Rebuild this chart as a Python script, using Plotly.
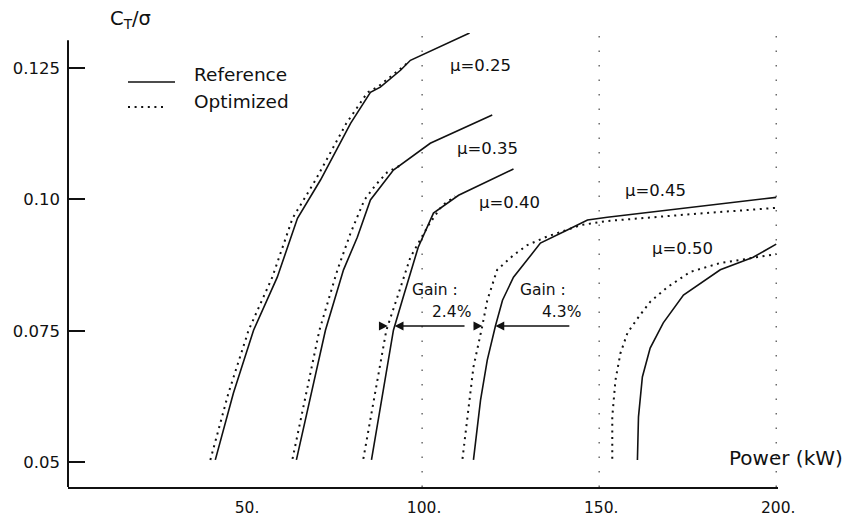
import numpy as np
import plotly.graph_objects as go

# Thrust coefficient vs. power, reference and optimized rotor, per advance ratio
mu_labels = ["\u00b5=0.25", "\u00b5=0.35", "\u00b5=0.40", "\u00b5=0.45", "\u00b5=0.50"]

ref_025_x = [41.6, 46.7, 52.4, 59.1, 64.8, 71.3, 79.8, 85.4, 88.2, 93.9, 96.7, 113.4]
ref_025_y = [0.0504, 0.0631, 0.0751, 0.0852, 0.0964, 0.1037, 0.1145, 0.1204, 0.1214, 0.1246, 0.1265, 0.1317]
opt_025_x = [40.2, 45.3, 51.0, 57.7, 63.4, 69.9, 78.6, 84.6, 87.4, 93.3, 96.1]
opt_025_y = [0.0504, 0.0631, 0.0751, 0.0852, 0.0964, 0.1037, 0.1145, 0.1204, 0.1214, 0.1246, 0.1261]

ref_035_x = [64.5, 68.5, 72.7, 77.8, 81.7, 85.4, 88.2, 91.9, 102.3, 119.8]
ref_035_y = [0.0504, 0.0624, 0.0751, 0.0866, 0.0928, 0.0999, 0.1024, 0.1056, 0.1107, 0.1161]
opt_035_x = [63.4, 67.1, 71.0, 76.1, 79.8, 83.7, 86.8, 90.2, 93.9]
opt_035_y = [0.0506, 0.0624, 0.0751, 0.0866, 0.0936, 0.0999, 0.1027, 0.1052, 0.1065]

ref_040_x = [85.7, 88.8, 91.9, 94.4, 98.9, 103.2, 110.3, 125.8]
ref_040_y = [0.0504, 0.0624, 0.0751, 0.0808, 0.0909, 0.0974, 0.1008, 0.1058]
opt_040_x = [83.4, 86.5, 89.9, 93.0, 96.7, 101.8, 105.7, 109.4]
opt_040_y = [0.0506, 0.0624, 0.0751, 0.0814, 0.0890, 0.0951, 0.0989, 0.1006]

ref_045_x = [114.5, 116.5, 118.4, 120.7, 122.7, 125.8, 129.7, 133.4, 141.0, 146.7, 152.3, 200.0]
ref_045_y = [0.0504, 0.0618, 0.0694, 0.0759, 0.0808, 0.0852, 0.0885, 0.0917, 0.0942, 0.0961, 0.0966, 0.1004]
opt_045_x = [111.4, 112.8, 114.5, 117.0, 118.4, 121.2, 125.8, 129.7, 134.8, 144.7, 152.3, 176.0, 200.0]
opt_045_y = [0.0506, 0.0586, 0.0681, 0.0759, 0.0808, 0.0866, 0.0894, 0.0913, 0.0928, 0.0951, 0.0959, 0.0972, 0.0984]

ref_050_x = [160.8, 161.1, 162.2, 164.4, 168.1, 173.8, 184.2, 193.5, 200.0]
ref_050_y = [0.0504, 0.0586, 0.0662, 0.0717, 0.0765, 0.0818, 0.0866, 0.0890, 0.0915]
opt_050_x = [153.7, 153.7, 154.6, 156.0, 158.0, 161.1, 164.4, 169.3, 175.7, 184.2, 192.7, 200.0]
opt_050_y = [0.0506, 0.0586, 0.0656, 0.0707, 0.0746, 0.0776, 0.0805, 0.0833, 0.0862, 0.0879, 0.0888, 0.0896]

# label anchor positions (power, CT/sigma)
mu_label_x = [116.5, 118.5, 124.6, 165.9, 173.5]
mu_label_y = [0.1256, 0.1098, 0.0995, 0.1018, 0.0907]

# power gain read at a common thrust level
gain_level = 0.0759
gain_texts = ["2.4%", "4.3%"]

x_tick_vals = [50, 100, 150, 200]
x_tick_text = ["50.", "100.", "150.", "200."]
y_tick_vals = [0.05, 0.075, 0.10, 0.125]
y_tick_text = ["0.05", "0.075", "0.10", "0.125"]
x_grid_vals = [100, 150, 200]

FONT = "DejaVu Sans"
INK = "#111111"
SOLID = dict(color=INK, width=1.6)
DOTTED = dict(color=INK, width=2.0, dash="2px,4.6px")

ref_curves = [(ref_025_x, ref_025_y), (ref_035_x, ref_035_y), (ref_040_x, ref_040_y),
              (ref_045_x, ref_045_y), (ref_050_x, ref_050_y)]
opt_curves = [(opt_025_x, opt_025_y), (opt_035_x, opt_035_y), (opt_040_x, opt_040_y),
              (opt_045_x, opt_045_y), (opt_050_x, opt_050_y)]

fig = go.Figure()
for (rx, ry), (ox, oy), lab in zip(ref_curves, opt_curves, mu_labels):
    fig.add_trace(go.Scatter(x=ox, y=oy, mode="lines", line=DOTTED,
                             name="Optimized " + lab, showlegend=False, hoverinfo="skip"))
    fig.add_trace(go.Scatter(x=rx, y=ry, mode="lines", line=SOLID,
                             name="Reference " + lab, showlegend=False, hoverinfo="skip"))

y_lo, y_hi = 0.04524, 0.1317
x_lo, x_hi = 0.0, 200.5

shapes = []
# left axis line
shapes.append(dict(type="line", xref="paper", yref="y", x0=0, x1=0, y0=y_lo, y1=0.1303,
                   line=dict(color=INK, width=2)))
# sparse dotted vertical grid
for gx in x_grid_vals:
    shapes.append(dict(type="line", xref="x", yref="paper", x0=gx, x1=gx, y0=0, y1=1,
                       line=dict(color="#555555", width=1.3, dash="1.5px,13px"), layer="below"))
# legend samples
shapes.append(dict(type="line", xref="paper", yref="paper", x0=0.0845, x1=0.1507,
                   y0=0.8921, y1=0.8921, line=SOLID))
shapes.append(dict(type="line", xref="paper", yref="paper", x0=0.0845, x1=0.1394,
                   y0=0.837, y1=0.837, line=DOTTED))

ann = []
ann.append(dict(text="Reference", xref="paper", yref="paper", x=0.1746, y=0.9075,
                xanchor="left", yanchor="middle", showarrow=False,
                font=dict(family=FONT, size=18.5, color=INK)))
ann.append(dict(text="Optimized", xref="paper", yref="paper", x=0.1746, y=0.850,
                xanchor="left", yanchor="middle", showarrow=False,
                font=dict(family=FONT, size=18.5, color=INK)))
for lab, lx, ly in zip(mu_labels, mu_label_x, mu_label_y):
    ann.append(dict(text=lab, x=lx, y=ly, xref="x", yref="y", showarrow=False,
                    xanchor="center", yanchor="middle",
                    font=dict(family=FONT, size=16.5, color=INK)))

# gain arrows: curve crossings at the chosen thrust level
def cross(xs, ys):
    return float(np.interp(gain_level, ys, xs))

pairs = [(opt_040_x, opt_040_y, ref_040_x, ref_040_y, 87.6, 112.4),
         (opt_045_x, opt_045_y, ref_045_x, ref_045_y, 114.2, 142.0)]
gain_label_x = [(96.7, 114.5), (127.2, 145.5)]
for (oxs, oys, rxs, rys, tail_l, tail_r), txt, (gx, px_) in zip(pairs, gain_texts, gain_label_x):
    xo = cross(oxs, oys)
    xr = cross(rxs, rys)
    ann.append(dict(x=xo, y=gain_level, ax=tail_l, ay=gain_level, xref="x", yref="y",
                    axref="x", ayref="y", text="", showarrow=True, arrowhead=2,
                    arrowsize=1.1, arrowwidth=1.6, arrowcolor=INK, standoff=0))
    ann.append(dict(x=xr, y=gain_level, ax=tail_r, ay=gain_level, xref="x", yref="y",
                    axref="x", ayref="y", text="", showarrow=True, arrowhead=2,
                    arrowsize=1.1, arrowwidth=1.6, arrowcolor=INK, standoff=0))
    ann.append(dict(text="Gain :", x=gx, y=0.0827, xref="x", yref="y", showarrow=False,
                    xanchor="left", yanchor="middle", font=dict(family=FONT, size=15.5, color=INK)))
    ann.append(dict(text=txt, x=px_, y=0.0786, xref="x", yref="y", showarrow=False,
                    xanchor="right", yanchor="middle", font=dict(family=FONT, size=15.5, color=INK)))

ann.append(dict(text="C<sub>T</sub>/\u03c3", xref="paper", yref="paper", x=0.0887, y=1.03,
                xanchor="center", yanchor="middle", showarrow=False,
                font=dict(family=FONT, size=19.5, color=INK)))
ann.append(dict(text="Power (kW)", xref="paper", yref="paper", x=1.011, y=0.0639,
                xanchor="center", yanchor="middle", showarrow=False,
                font=dict(family=FONT, size=20, color=INK)))

fig.update_layout(
    width=850, height=518,
    margin=dict(l=68, r=72, t=33, b=31, pad=0, autoexpand=False),
    paper_bgcolor="white", plot_bgcolor="white",
    showlegend=False,
    shapes=shapes, annotations=ann,
    xaxis=dict(range=[x_lo, x_hi], tickvals=x_tick_vals, ticktext=x_tick_text,
               showgrid=False, zeroline=False, showline=True, linecolor=INK, linewidth=2,
               ticks="", ticklabelshift=2, ticklabelstandoff=5, automargin=False,
               tickfont=dict(family=FONT, size=15.5, color=INK)),
    yaxis=dict(range=[y_lo, y_hi], tickvals=y_tick_vals, ticktext=y_tick_text,
               showgrid=False, zeroline=False, showline=False, automargin=False,
               ticks="inside", ticklen=17, tickwidth=1.6, tickcolor=INK,
               ticklabelstandoff=7,
               tickfont=dict(family=FONT, size=16.5, color=INK)),
)

fig.write_html("out.html")
